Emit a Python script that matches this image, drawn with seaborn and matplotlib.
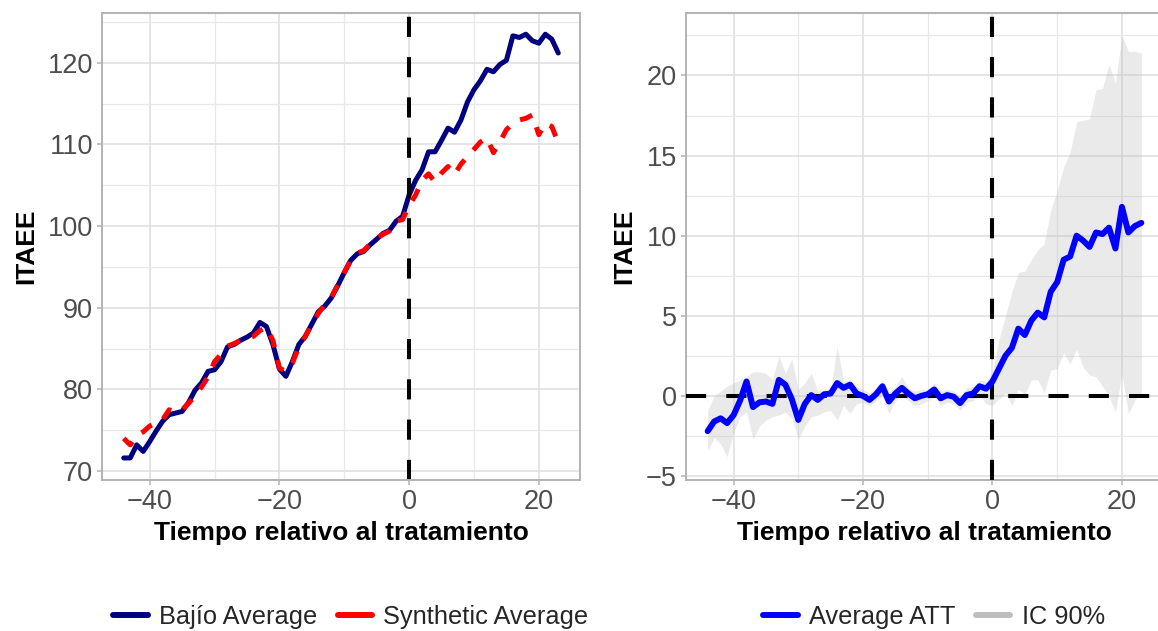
import matplotlib
matplotlib.use("Agg")
import numpy as np
import pandas as pd
import seaborn as sns
import matplotlib.pyplot as plt
from matplotlib.lines import Line2D
from matplotlib.ticker import MultipleLocator

# ---------------- data ----------------
t = list(range(-44, 24))

bajio = [71.6, 71.6, 73.2, 72.4, 73.6, 74.9, 76.1, 76.9, 77.1, 77.3,
         78.4, 79.9, 80.8, 82.2, 82.4, 83.4, 85.2, 85.5, 86.0, 86.4,
         86.9, 88.2, 87.7, 85.5, 82.5, 81.6, 83.4, 85.5, 86.5, 88.0,
         89.5, 90.2, 91.2, 92.7, 94.3, 95.8, 96.6, 96.9, 97.7, 98.4,
         99.1, 99.5, 100.6, 101.2, 103.8, 105.6, 106.9, 109.1, 109.1, 110.5,
         112.0, 111.5, 113.0, 115.2, 116.7, 117.8, 119.2, 118.9, 119.8, 120.3,
         123.3, 123.1, 123.5, 122.7, 122.4, 123.5, 122.9, 121.2]

synthetic = [74.0, 73.2, 74.3, 74.8, 75.5, 75.9, 76.3, 77.5, 77.2, 77.5,
             78.3, 79.2, 80.3, 81.5, 83.4, 84.3, 85.3, 85.6, 86.0, 86.3,
             86.5, 87.2, 87.6, 86.0, 82.6, 82.2, 83.2, 85.2, 86.5, 88.0,
             89.3, 90.4, 91.3, 92.8, 94.3, 95.8, 96.7, 97.0, 97.8, 98.5,
             99.0, 99.4, 100.6, 100.8, 102.5, 103.8, 105.6, 106.4, 105.4, 106.5,
             107.3, 106.3, 107.6, 108.5, 109.4, 110.3, 110.8, 109.0, 110.3, 111.8,
             112.6, 113.0, 113.2, 113.6, 111.2, 112.6, 112.2, 110.2]

att = [-2.2, -1.6, -1.4, -1.7, -1.2, -0.3, 0.9, -0.7, -0.4, -0.35,
       -0.5, 1.0, 0.7, -0.2, -1.5, -0.5, 0.05, -0.25, 0.1, 0.15,
       0.8, 0.5, 0.7, 0.15, 0.0, -0.25, 0.1, 0.6, -0.35, 0.15,
       0.5, 0.15, -0.15, 0.0, 0.1, 0.4, -0.15, 0.05, -0.05, -0.45,
       0.05, 0.15, 0.6, 0.45, 0.9, 1.7, 2.5, 3.0, 4.2, 3.8,
       4.7, 5.2, 4.9, 6.5, 7.1, 8.5, 8.7, 10.0, 9.7, 9.3,
       10.2, 10.1, 10.5, 9.2, 11.8, 10.2, 10.6, 10.8]

ci_upper = [-0.9, 0.0, 0.3, 0.6, 0.8, 1.0, 1.2, 1.5, 1.5, 1.4,
            1.0, 2.5, 1.4, 2.3, 0.4, 0.8, 1.4, 0.3, 0.4, 0.3,
            3.1, 0.9, 1.0, 0.6, 0.4, 0.2, 0.5, 1.0, 0.2, 0.6,
            1.2, 0.5, 0.3, 0.4, 0.4, 0.8, 0.3, 0.4, 0.3, 0.0,
            0.5, 0.6, 1.0, 0.9, 1.5, 3.5, 5.0, 6.5, 7.7, 7.8,
            8.5, 9.1, 9.5, 11.6, 12.8, 14.3, 15.2, 17.1, 17.2, 17.3,
            19.1, 19.2, 20.7, 19.5, 22.5, 21.5, 21.5, 21.4]

ci_lower = [-3.4, -2.6, -3.0, -3.8, -2.3, -1.3, -1.0, -2.7, -1.9, -1.5,
            -1.3, -1.2, -1.0, -1.4, -2.7, -1.9, -1.3, -1.2, -1.0, -0.9,
            -1.5, -0.6, -1.1, -0.5, -0.4, -0.6, -0.3, 0.0, -1.1, -0.3,
            0.0, -0.3, -0.6, -0.5, -0.3, 0.0, -0.6, -0.4, -0.5, -0.9,
            -0.4, -0.3, 0.1, -0.5, -0.6, -0.2, 0.2, -0.6, 0.4, 0.1,
            1.0, 1.0, 0.2, 1.6, 1.7, 2.7, 2.0, 2.9, 1.8, 1.3,
            1.2, 0.6, 0.0, -1.0, 1.4, -1.1, -0.25, 0.2]

left_legend = ["Bajío Average", "Synthetic Average"]
right_legend = ["Average ATT", "IC 90%"]
xlabel = "Tiempo relativo al tratamiento"
ylabel = "ITAEE"

df_left = pd.DataFrame({"t": t, "bajio": bajio, "synthetic": synthetic})
df_right = pd.DataFrame({"t": t, "att": att, "lo": ci_lower, "hi": ci_upper})

# ---------------- style ----------------
sns.set_theme(style="whitegrid")
plt.rcParams["font.family"] = ["Liberation Sans", "DejaVu Sans"]

NAVY = "#000080"
RED = "#FF0000"
BLUE = "#0000FF"
FS = 19
FS_TICK = 19.5
FS_LEG = 18.3

fig = plt.figure(figsize=(11.58, 6.31), dpi=100)
W, H = 1158, 631
ax1 = fig.add_axes([102 / W, 151 / H, 478 / W, 467 / H])
ax2 = fig.add_axes([686 / W, 151 / H, 477 / W, 467 / H])


def style(ax):
    ax.set_facecolor("white")
    for s in ax.spines.values():
        s.set_visible(True)
        s.set_color("#b3b3b3")
        s.set_linewidth(1.4)
    ax.set_axisbelow(True)
    ax.grid(True, which="major", color="#dedede", linewidth=1.1)
    ax.grid(True, which="minor", color="#e8e8e8", linewidth=0.9)
    ax.tick_params(which="major", bottom=True, left=True, length=3.5, width=1.1,
                   color="#b3b3b3", labelsize=FS_TICK, labelcolor="#4d4d4d", pad=3)
    ax.tick_params(which="minor", bottom=False, left=False, length=0)
    ax.xaxis.set_major_locator(MultipleLocator(20))
    ax.xaxis.set_minor_locator(MultipleLocator(10))
    ax.set_xlabel(xlabel, fontsize=FS, fontweight="bold", color="black", labelpad=4)
    ax.set_ylabel(ylabel, fontsize=FS, fontweight="bold", color="black", labelpad=7)


# ---------------- left panel ----------------
sns.lineplot(data=df_left, x="t", y="bajio", ax=ax1, color=NAVY, linewidth=3.6)
sns.lineplot(data=df_left, x="t", y="synthetic", ax=ax1, color=RED, linewidth=3.6,
             linestyle=(0, (2.6, 2.6)))
ax1.axvline(0, color="black", linewidth=2.9, linestyle=(0, (5, 5)))
ax1.set_xlim(-47.35, 26.35)
ax1.set_ylim(68.9, 126.1)
ax1.yaxis.set_major_locator(MultipleLocator(10))
ax1.yaxis.set_minor_locator(MultipleLocator(5))
style(ax1)

# ---------------- right panel ----------------
ax2.fill_between(df_right["t"], df_right["lo"], df_right["hi"], color="#bebebe",
                 alpha=0.32, linewidth=0)
ax2.axhline(0, color="black", linewidth=2.9, linestyle=(0, (5, 5)), zorder=3)
ax2.axvline(0, color="black", linewidth=2.9, linestyle=(0, (5, 5)), zorder=3)
sns.lineplot(data=df_right, x="t", y="att", ax=ax2, color=BLUE, linewidth=4.3, zorder=4)
ax2.set_xlim(-47.35, 26.35)
ax2.set_ylim(-5.25, 23.9)
ax2.yaxis.set_major_locator(MultipleLocator(5))
ax2.yaxis.set_minor_locator(MultipleLocator(2.5))
style(ax2)

# ---------------- legends ----------------
h_left = [Line2D([0], [0], color=NAVY, lw=4.3),
          Line2D([0], [0], color=RED, lw=4.3)]
h_right = [Line2D([0], [0], color=BLUE, lw=4.3),
           Line2D([0], [0], color="#bebebe", lw=4.3)]
leg_kw = dict(loc="center", ncol=2, frameon=False, fontsize=FS_LEG, handlelength=1.35,
              columnspacing=0.8, handletextpad=0.45)
fig.legend(h_left, left_legend, bbox_to_anchor=(351 / W, 1 - 617 / H), **leg_kw)
fig.legend(h_right, right_legend, bbox_to_anchor=(934 / W, 1 - 617 / H), **leg_kw)

fig.savefig("out.png", dpi=100)
